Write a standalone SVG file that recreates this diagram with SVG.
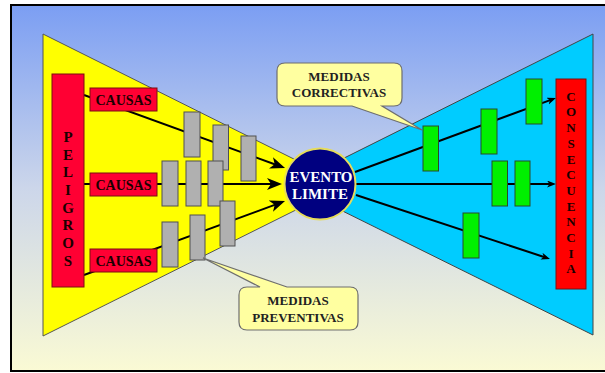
<svg xmlns="http://www.w3.org/2000/svg" width="605" height="373" viewBox="0 0 605 373">
<style>
.t{font-family:"Liberation Serif","Times New Roman",serif;font-weight:bold;text-anchor:middle}
.gray{fill:#B0B0B0;stroke:#505050;stroke-width:1}
.green{fill:#00F000;stroke:#2A4A2A;stroke-width:1}
.red{fill:#FF0033;stroke:#7A1010;stroke-width:1}
.red2{fill:#FF0000;stroke:#7A1010;stroke-width:1}
.call{fill:#FFFFA0;stroke:#6E6E6E;stroke-width:1.2}
.ln{stroke:#000;stroke-width:2;fill:none}
</style>
<defs>
<linearGradient id="bg" x1="0" y1="0" x2="0" y2="1">
<stop offset="0" stop-color="#7B9EF3"/>
<stop offset="0.5" stop-color="#CCD6EA"/>
<stop offset="1" stop-color="#FAFAD4"/>
</linearGradient>
<marker id="ahL" markerUnits="userSpaceOnUse" markerWidth="16" markerHeight="12" refX="9" refY="6" orient="auto">
<path d="M0,0 L15,6 L0,12 L4,6 Z" fill="#000"/>
</marker>
<marker id="ahR" markerUnits="userSpaceOnUse" markerWidth="10" markerHeight="8" refX="5" refY="3.5" orient="auto">
<path d="M0,0 L9,3.5 L0,7 L2.5,3.5 Z" fill="#000"/>
</marker>
</defs>
<rect x="0" y="0" width="605" height="373" fill="#fff"/>
<rect id="frame" x="11" y="5" width="600" height="366" fill="url(#bg)" stroke="#000" stroke-width="2"/>
<polygon id="yellow" points="43,34 43,336 346,185" fill="#FFFF00" stroke="#555" stroke-width="1"/>
<polygon id="cyan" points="593,34 593,335 290,185" fill="#00CCFF" stroke="#444" stroke-width="1"/>
<g id="connectors">
<line class="ln" x1="84" y1="95" x2="279.4" y2="166" marker-end="url(#ahL)"/>
<line class="ln" x1="84" y1="184" x2="276" y2="184" stroke-width="3.5" marker-end="url(#ahL)"/>
<line class="ln" x1="84" y1="275" x2="279.4" y2="203.1" marker-end="url(#ahL)"/>
<line class="ln" x1="355" y1="172" x2="552.2" y2="99.4" marker-end="url(#ahR)"/>
<line class="ln" x1="354" y1="184" x2="552" y2="184" marker-end="url(#ahR)"/>
<line class="ln" x1="356" y1="195" x2="546.2" y2="257.7" marker-end="url(#ahR)"/>
</g>
<g id="peligros">
<rect class="red" x="52" y="74" width="32" height="213"/>
<g class="t" font-size="15" fill="#1A0000">
<text x="68" y="142">P</text><text x="68" y="160">E</text><text x="68" y="177">L</text><text x="68" y="195">I</text>
<text x="68" y="213">G</text><text x="68" y="230">R</text><text x="68" y="248">O</text><text x="68" y="266">S</text>
</g>
</g>
<g id="causas1"><rect class="red" x="90" y="88" width="67" height="23"/><text class="t" x="123.5" y="104.5" font-size="14" fill="#1A0000">CAUSAS</text></g>
<g id="causas2"><rect class="red" x="90" y="173" width="67" height="23"/><text class="t" x="123.5" y="189.5" font-size="14" fill="#1A0000">CAUSAS</text></g>
<g id="causas3"><rect class="red" x="90" y="249" width="67" height="23"/><text class="t" x="123.5" y="265.5" font-size="14" fill="#1A0000">CAUSAS</text></g>
<g id="preventivas-barriers">
<rect class="gray" x="184" y="112" width="16" height="45"/>
<rect class="gray" x="213" y="125" width="15.5" height="45"/>
<rect class="gray" x="241" y="136" width="15" height="45"/>
<rect class="gray" x="162" y="161" width="16" height="45"/>
<rect class="gray" x="186" y="161" width="15" height="45"/>
<rect class="gray" x="208" y="161" width="15" height="45"/>
<rect class="gray" x="162" y="222" width="16" height="45"/>
<rect class="gray" x="190" y="215" width="15" height="45"/>
<rect class="gray" x="220" y="201" width="15" height="45"/>
</g>
<g id="correctivas-barriers">
<rect class="green" x="423" y="126" width="15.5" height="45"/>
<rect class="green" x="481" y="109" width="16" height="45"/>
<rect class="green" x="526" y="79" width="16" height="45"/>
<rect class="green" x="492" y="161" width="15.5" height="45"/>
<rect class="green" x="515" y="161" width="15" height="45"/>
<rect class="green" x="463" y="213" width="16" height="45"/>
</g>
<g id="evento">
<circle cx="320" cy="184" r="35.5" fill="#000080" stroke="#E6DC5A" stroke-width="2"/>
<text class="t" x="321" y="182" font-size="15" fill="#fff">EVENTO</text>
<text class="t" x="320" y="199" font-size="15" fill="#fff">LIMITE</text>
</g>
<g id="consecuencia">
<rect class="red2" x="556" y="79" width="30" height="210"/>
<g class="t" font-size="13" fill="#1A0000">
<text x="571" y="100.5">C</text><text x="571" y="116">O</text><text x="571" y="132">N</text><text x="571" y="148">S</text>
<text x="571" y="163.5">E</text><text x="571" y="179">C</text><text x="571" y="195">U</text><text x="571" y="210.5">E</text>
<text x="571" y="226">N</text><text x="571" y="242">C</text><text x="571" y="257.5">I</text><text x="571" y="273">A</text>
</g>
</g>
<g id="callout-correctivas">
<path class="call" d="M285,63 H394 Q402,63 402,71 V98 Q402,106 394,106 H382 L422,130 L352,106 H285 Q277,106 277,98 V71 Q277,63 285,63 Z"/>
<text class="t" x="339" y="81" font-size="13" fill="#222">MEDIDAS</text>
<text class="t" x="339" y="97" font-size="13" fill="#222">CORRECTIVAS</text>
</g>
<g id="callout-preventivas">
<path class="call" d="M247,287 H260 L203,258 L287,287 H350 Q358,287 358,295 V322 Q358,330 350,330 H247 Q239,330 239,322 V295 Q239,287 247,287 Z"/>
<text class="t" x="298" y="305" font-size="13" fill="#222">MEDIDAS</text>
<text class="t" x="298" y="322" font-size="13" fill="#222">PREVENTIVAS</text>
</g>
</svg>
